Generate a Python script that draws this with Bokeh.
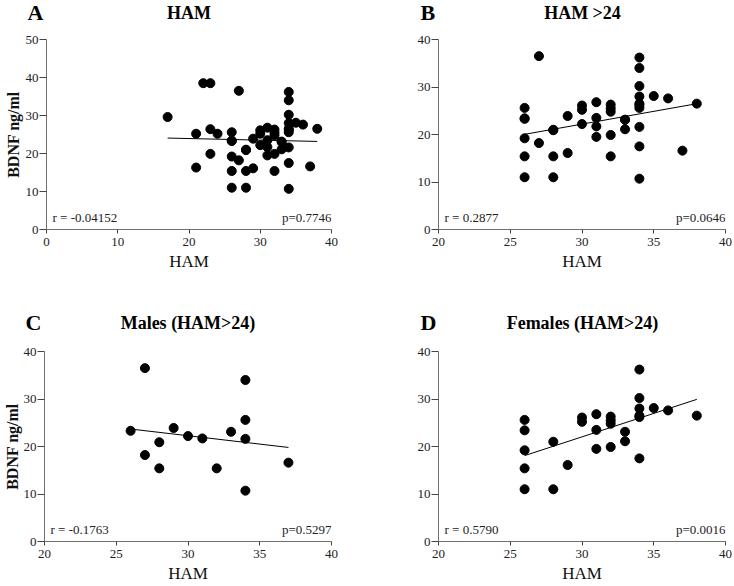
import numpy as np
from bokeh.plotting import figure
from bokeh.layouts import column, row
from bokeh.models import Range1d, Label, FixedTicker
from bokeh.embed import file_html
from bokeh.resources import INLINE

# ---- data ----
# HAM scores <= 24 (only in panel A)
ham_low = [17, 21, 21, 22, 23, 23, 23, 24]
bdnf_low = [29.6, 25.2, 16.3, 38.5, 38.5, 26.4, 19.9, 25.2]

# Males, HAM > 24
ham_male = [26, 27, 27, 28, 28, 29, 30, 31, 32, 33, 34, 34, 34, 34, 37]
bdnf_male = [23.3, 36.5, 18.2, 20.9, 15.4, 23.9, 22.2, 21.7, 15.4, 23.1, 34.0, 25.6, 21.6, 10.7, 16.6]

# Females, HAM > 24
ham_female = [26, 26, 26, 26, 26, 28, 28, 29, 30, 30, 31, 31, 31, 32, 32, 32, 32,
              33, 33, 34, 34, 34, 34, 34, 34, 35, 36, 38]
bdnf_female = [25.6, 23.4, 19.2, 15.4, 11.0, 21.0, 11.0, 16.1, 26.1, 25.2, 26.8, 23.5, 19.5,
               26.3, 25.5, 24.8, 19.9, 23.1, 21.1, 36.2, 30.2, 28.0, 26.5, 26.2, 17.5,
               28.1, 27.6, 26.5]

panel_letters = ["A", "B", "C", "D"]
panel_titles = ["HAM", "HAM >24", "Males (HAM>24)", "Females (HAM>24)"]
r_texts = ["r = -0.04152", "r = 0.2877", "r = -0.1763", "r = 0.5790"]
p_texts = ["p=0.7746", "p=0.0646", "p=0.5297", "p=0.0016"]
x_label = "HAM"
y_label = "BDNF ng/ml"

ham_gt24 = ham_male + ham_female
bdnf_gt24 = bdnf_male + bdnf_female
ham_all = ham_low + ham_gt24
bdnf_all = bdnf_low + bdnf_gt24

FONT = "Liberation Serif"


def header(width, height, letter, title, letter_x, title_x, base_y):
    h = figure(width=width, height=height, output_backend="svg", toolbar_location=None,
               x_range=Range1d(0, width), y_range=Range1d(0, height),
               x_axis_type=None, y_axis_type=None, min_border=0)
    h.outline_line_color = None
    h.grid.grid_line_color = None
    h.add_layout(Label(x=letter_x, y=base_y, text=letter, text_font=FONT,
                       text_font_size="22px", text_font_style="bold",
                       text_baseline="alphabetic", text_align="left", text_color="black"))
    h.add_layout(Label(x=title_x, y=base_y, text=title, text_font=FONT,
                       text_font_size="18px", text_font_style="bold",
                       text_baseline="alphabetic", text_align="center", text_color="black"))
    return h


def panel(xs, ys, xr, yr, xticks, yticks, rt, pt, ylab,
          width, height, bl, br, bt, bb):
    p = figure(width=width, height=height, output_backend="svg", toolbar_location=None,
               x_range=Range1d(*xr), y_range=Range1d(*yr),
               min_border_left=bl, min_border_right=br, min_border_top=bt,
               min_border_bottom=bb)
    p.outline_line_color = None
    p.grid.grid_line_color = None
    for ax in (p.xaxis[0], p.yaxis[0]):
        ax.axis_line_color = "#707070"
        ax.axis_line_width = 1
        ax.major_tick_line_color = "#444444"
        ax.major_tick_in = 0
        ax.minor_tick_line_color = None
        ax.major_label_text_font = FONT
        ax.major_label_text_font_size = "13px"
        ax.major_label_text_color = "#222222"
        ax.axis_label_text_font = FONT
        ax.axis_label_text_color = "#111111"
    xa, ya = p.xaxis[0], p.yaxis[0]
    xa.major_tick_out = 4
    xa.major_label_standoff = 4
    ya.major_tick_out = 7
    ya.major_label_standoff = 1
    xa.ticker = FixedTicker(ticks=xticks)
    ya.ticker = FixedTicker(ticks=yticks)
    xa.axis_label = x_label
    xa.axis_label_text_font_size = "17px"
    xa.axis_label_text_font_style = "normal"
    xa.axis_label_standoff = 3
    if ylab:
        ya.axis_label = y_label
        ya.axis_label_text_font_size = "16px"
        ya.axis_label_text_font_style = "bold"
        ya.axis_label_standoff = max(bl - 45, 0)

    p.scatter(xs, ys, size=9, color="black", marker="circle")
    # least squares regression line from the data
    k, b = np.polyfit(xs, ys, 1)
    x0, x1 = min(xs), max(xs)
    p.line([x0, x1], [k * x0 + b, k * x1 + b], line_color="black", line_width=1)

    fw = width - bl - br
    fh = height - bt - bb
    ux = (xr[1] - xr[0]) / fw
    uy = (yr[1] - yr[0]) / fh
    p.add_layout(Label(x=xr[0] + 6 * ux, y=yr[0] + 12 * uy, text=rt, text_font=FONT,
                       text_font_size="13px", text_baseline="middle", text_align="left",
                       text_color="#222222"))
    p.add_layout(Label(x=xr[1], y=yr[0] + 12 * uy, text=pt, text_font=FONT,
                       text_font_size="13px", text_baseline="middle", text_align="right",
                       text_color="#222222"))
    return p


WL, WR = 367, 367
# top row: header 0..30, plot 30..293 (frame 39..229)
ha = header(WL, 30, panel_letters[0], panel_titles[0], 27, 188.5, 18)
hb = header(WR, 30, panel_letters[1], panel_titles[1], 53, 215, 18)
pa = panel(ham_all, bdnf_all, (0, 40), (0, 50), [0, 10, 20, 30, 40], [0, 10, 20, 30, 40, 50],
           r_texts[0], p_texts[0], True, WL, 263, 46, 36, 9, 64)
pb = panel(ham_gt24, bdnf_gt24, (20, 40), (0, 40), [20, 25, 30, 35, 40], [0, 10, 20, 30, 40],
           r_texts[1], p_texts[1], False, WR, 263, 71, 9, 9, 64)
# bottom row: header 293..341, plot 341..586 (frame 351..541)
hc = header(WL, 48, panel_letters[2], panel_titles[2], 25, 187.5, 19)
hd = header(WR, 48, panel_letters[3], panel_titles[3], 53, 215, 19)
pc = panel(ham_male, bdnf_male, (20, 40), (0, 40), [20, 25, 30, 35, 40], [0, 10, 20, 30, 40],
           r_texts[2], p_texts[2], True, WL, 245, 44, 36, 10, 45)
pd_ = panel(ham_female, bdnf_female, (20, 40), (0, 40), [20, 25, 30, 35, 40], [0, 10, 20, 30, 40],
            r_texts[3], p_texts[3], False, WR, 245, 71, 9, 10, 45)

layout = column(row(ha, hb), row(pa, pb), row(hc, hd), row(pc, pd_))

open("out.html", "w").write(file_html(layout, INLINE))
